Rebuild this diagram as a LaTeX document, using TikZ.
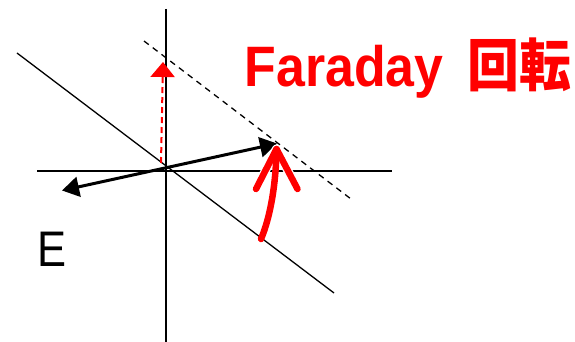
\documentclass[tikz,border=0pt]{standalone}
\usepackage{fontspec}
\setmainfont{Liberation Sans}
\newfontfamily\cjk{Noto Sans CJK JP}
\usetikzlibrary{arrows.meta}
\begin{document}
\begin{tikzpicture}[x=1pt,y=-1pt,
  thinline/.style={line width=1.3pt, black},
  dashline/.style={line width=1.3pt, black, dash pattern=on 6pt off 5pt},
  evec/.style={line width=3pt, black, {Triangle[length=17pt,width=20pt]}-{Triangle[length=17pt,width=20pt]}},
  reddash/.style={line width=2pt, red, dash pattern=on 6pt off 4pt, -{Triangle[length=15pt,width=24pt]}},
  redrot/.style={line width=6.5pt, red, line cap=round, line join=round},
  redhalo/.style={line width=9pt, white, line cap=round, line join=round},
  lbl/.style={inner sep=0pt, anchor=base west}]
\useasboundingbox (0,0) rectangle (575,342);
\coordinate (vt) at (166,9);
\coordinate (vb) at (166,342);
\coordinate (hl) at (37,171);
\coordinate (hr) at (392,171);
\coordinate (s1) at (17,53);
\coordinate (s2) at (334,293);
\coordinate (d1) at (144,41);
\coordinate (d2) at (351,199);
\coordinate (ea) at (62,190.5);
\coordinate (eb) at (277,143.5);
\coordinate (r0) at (161,163);
\coordinate (r1) at (163,62);
\coordinate (c0) at (261,239);
\coordinate (c1) at (276.5,149);
\coordinate (w1) at (256,189);
\coordinate (w2) at (297.5,189);
% axes and lines
\draw[thinline] (vt) -- (vb);
\draw[thinline] (hl) -- (hr);
\draw[thinline] (s1) -- (s2);
\draw[dashline] (d1) -- (d2);
% vectors
\draw[reddash] (r0) -- (r1);
\draw[evec] (ea) -- (eb);
% rotation arrow
\draw[redhalo] (w1) -- (c1) -- (w2);
\draw[redrot] (c0) .. controls (270,218) and (276,185) .. (c1);
\draw[redrot] (w1) -- (c1) -- (w2);
% labels
\node[lbl] (E) at (37.5,266.5) {\fontsize{50pt}{50pt}\selectfont\scalebox{0.87}[1]{E}};
\node[lbl, text=red] (far) at (244.5,86.5) {\fontsize{57pt}{57pt}\selectfont\scalebox{0.91}[1]{\bfseries Faraday\hspace{26pt}{\cjk 回転}}};
\end{tikzpicture}
\end{document}
